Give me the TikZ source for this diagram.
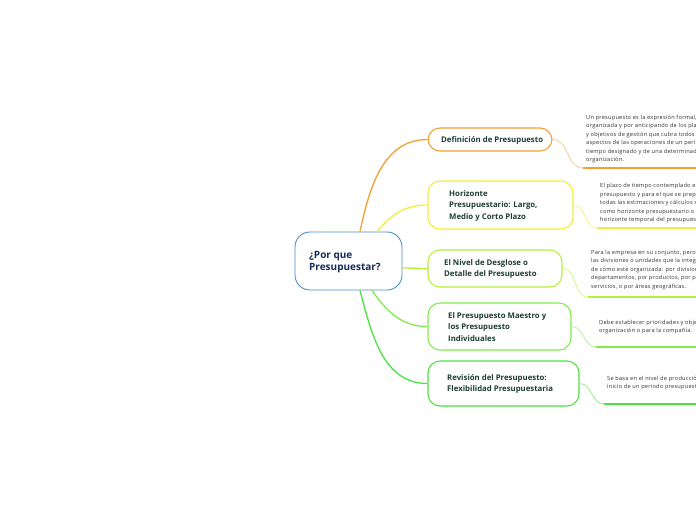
\documentclass[tikz,border=0pt]{standalone}
\usepackage{fontspec}
\setmainfont{Open Sans}
\newfontfamily\detailfont[LetterSpace=4]{Open Sans}
\usetikzlibrary{calc}
\definecolor{corange}{HTML}{F5A033}
\definecolor{cyellow}{HTML}{F2EE3C}
\definecolor{cygreen}{HTML}{B4F03E}
\definecolor{cgreenA}{HTML}{7FEE4C}
\definecolor{cgreenB}{HTML}{4EE244}
\definecolor{corangeL}{HTML}{FBCB95}
\definecolor{cyellowL}{HTML}{F7F48A}
\definecolor{cygreenL}{HTML}{D4F68A}
\definecolor{cgreenAL}{HTML}{B0F594}
\definecolor{cgreenBL}{HTML}{98EE90}
\definecolor{cblue}{HTML}{4A8FD0}
\definecolor{navy}{HTML}{15295A}
\definecolor{btextcol}{HTML}{1E3D35}
\definecolor{dtextcol}{HTML}{333333}
\begin{document}
\begin{tikzpicture}[x=1pt,y=-1pt,
  cbox/.style={draw=cblue, line width=0.9pt, rounded corners=15pt, fill=white, minimum width=107pt, minimum height=58pt, inner sep=0pt},
  bbox/.style={line width=1.1pt, rounded corners=12pt, fill=white, minimum width=#1, inner sep=0pt, draw},
  btext/.style={anchor=west, align=left, inner sep=0pt, text=btextcol, font=\fontsize{7.8}{11.5}\selectfont\bfseries},
  ctext/.style={anchor=west, align=left, inner sep=0pt, text=navy, font=\fontsize{10}{12.5}\selectfont\bfseries},
  dtext/.style={anchor=north west, align=left, inner sep=0pt, text=dtextcol, font=\detailfont\fontsize{5.65}{8.5}\selectfont},
  mainline/.style={line width=1.3pt},
  subline/.style={line width=0.8pt},
  uline/.style={line width=2pt}
]
\useasboundingbox (0,0) rectangle (696,520);
\clip (0,0) rectangle (696,520);
\fill[white] (0,0) rectangle (696,520);

% central node
\node[cbox] (c) at (348.5,261) {};
\node[ctext] (ct) at (309,262) {¿Por que\\Presupuestar?};

% connector start points on the central node
\coordinate (s1) at ($(c.north)+(11.5,0)$);
\coordinate (s2) at ($(c.north)+(28.5,0)$);
\coordinate (s3) at ($(c.east)+(0,7)$);
\coordinate (s4) at ($(c.south)+(23.5,0)$);
\coordinate (s5) at ($(c.south)+(11.5,0)$);

% branch boxes
\node[bbox=124pt, draw=corange, minimum height=23pt] (b1) at (490,139.5) {};
\node[bbox=145pt, draw=cyellow, minimum height=48pt] (b2) at (500.5,205) {};
\node[bbox=134pt, draw=cygreen, minimum height=37pt] (b3) at (495,268.5) {};
\node[bbox=143pt, draw=cgreenA, minimum height=47pt] (b4) at (499.5,326.5) {};
\node[bbox=151pt, draw=cgreenB, minimum height=45pt] (b5) at (503.5,383.5) {};

\node[btext] (t1) at (441,140) {Definición de Presupuesto};
\node[btext] (t2) at (449,205.5) {Horizonte\\Presupuestario: Largo,\\Medio y Corto Plazo};
\node[btext] (t3) at (444,269) {El Nivel de Desglose o\\Detalle del Presupuesto};
\node[btext] (t4) at (448,327) {El Presupuesto Maestro y\\los Presupuesto\\Individuales};
\node[btext] (t5) at (447,384) {Revisión del Presupuesto:\\Flexibilidad Presupuestaria};

% main connectors
\draw[mainline, corange] (s1) to[out=78,in=180] (b1.west);
\draw[mainline, cyellow] (s2) to[out=50,in=180] (b2.west);
\draw[mainline, cygreen] (s3) to[out=0,in=180] (b3.west);
\draw[mainline, cgreenA] (s4) to[out=-55,in=180] (b4.west);
\draw[mainline, cgreenB] (s5) to[out=-75,in=180] (b5.west);

% detail texts
\node[dtext] (d1) at (586,114.5) {Un presupuesto es la expresión formal, cuantitativa\\organizada y por anticipando de los planes\\y objetivos de gestión que cubra todos los\\aspectos de las operaciones de un período de\\tiempo designado y de una determinada\\organización.};
\node[dtext] (d2) at (600,183.5) {El plazo de tiempo contemplado en el\\presupuesto y para el que se preparan\\todas las estimaciones y cálculos se conoce\\como horizonte presupuestario o también\\horizonte temporal del presupuesto.};
\node[dtext] (d3) at (591,249.5) {Para la empresa en su conjunto, pero también para\\las divisiones o unidades que la integran,\\de cómo esté organizada: por divisiones,\\departamentos, por productos, por procesos,\\servicios, o por áreas geográficas.};
\node[dtext] (d4) at (599,319.5) {Debe establecer prioridades y objetivos para la\\organización o para la compañía.};
\node[dtext] (d5) at (607,375.5) {Se basa en el nivel de producción al\\inicio de un periodo presupuestario.};

% underline anchors
\coordinate (u1) at (583,168);   \coordinate (e1) at (696,168);
\coordinate (u2) at (597,228);   \coordinate (e2) at (696,228);
\coordinate (u3) at (588,297);   \coordinate (e3) at (696,297);
\coordinate (u4) at (596,347);   \coordinate (e4) at (696,347);
\coordinate (u5) at (604,404);   \coordinate (e5) at (696,404);

% sub connectors
\draw[subline, corangeL] (b1.east) to[out=0,in=180] (u1);
\draw[subline, cyellowL] (b2.east) to[out=0,in=180] (u2);
\draw[subline, cygreenL] (b3.east) to[out=0,in=180] (u3);
\draw[subline, cgreenAL] (b4.east) to[out=0,in=180] (u4);
\draw[subline, cgreenBL] (b5.east) to[out=0,in=180] (u5);

\draw[uline, corange] (u1) -- (e1);
\draw[uline, cyellow] (u2) -- (e2);
\draw[uline, cygreen] (u3) -- (e3);
\draw[uline, cgreenA] (u4) -- (e4);
\draw[uline, cgreenB] (u5) -- (e5);
\end{tikzpicture}
\end{document}
